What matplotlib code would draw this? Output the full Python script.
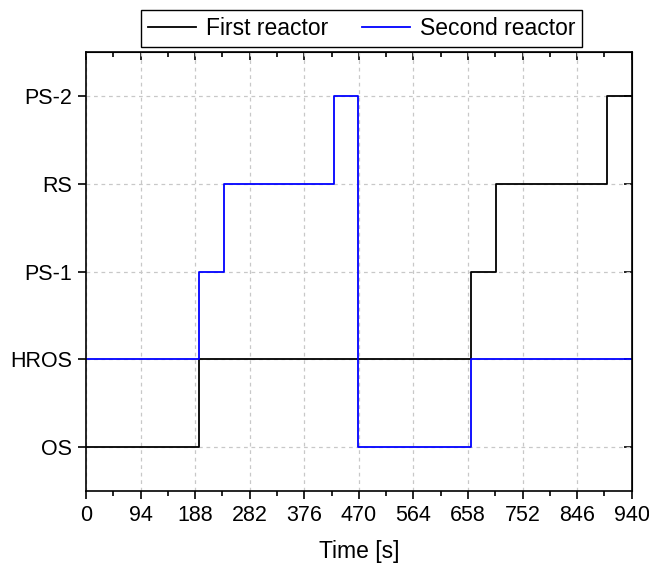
import matplotlib
matplotlib.use("Agg")
import matplotlib.pyplot as plt
from matplotlib.ticker import MultipleLocator

plt.rcParams['font.family'] = ['Liberation Sans', 'DejaVu Sans']

# state labels on the y axis (index = level)
states = ["OS", "HROS", "PS-1", "RS", "PS-2"]

# first reactor: switch times [s] and the state held from that time on
t_first = [0, 194, 664, 707, 898, 940]
s_first = [0, 1, 2, 3, 4, 4]

# second reactor
t_second = [0, 195, 237, 427, 469, 663, 940]
s_second = [1, 2, 3, 4, 0, 1, 1]

xticks = list(range(0, 941, 94))

fig = plt.figure(figsize=(6.49, 5.63), dpi=100)
ax = fig.add_axes([0.1325, 0.1279, 0.8408, 0.7792])

ax.plot(t_first, s_first, drawstyle="steps-post", color="black", lw=1.3,
        label="First reactor")
ax.plot(t_second, s_second, drawstyle="steps-post", color="#0000ff", lw=1.3,
        label="Second reactor")

ax.set_xlim(0, 940)
ax.set_ylim(-0.5, 4.5)
ax.set_xticks(xticks)
ax.xaxis.set_minor_locator(MultipleLocator(47))
ax.set_yticks(range(len(states)))
ax.set_yticklabels(states)

ax.grid(True, which="major", color="#c8c8c8", ls=(0, (3, 3)), lw=0.9)
ax.set_axisbelow(True)

for sp in ax.spines.values():
    sp.set_linewidth(1.2)

ax.tick_params(axis="both", which="major", labelsize=15.5, width=1.2, length=6,
               direction="out", pad=4)
ax.tick_params(axis="x", which="minor", width=1.2, length=3.5, direction="out")

# ticks on the opposite sides point inwards
top = ax.secondary_xaxis("top")
top.set_xticks(xticks)
top.xaxis.set_minor_locator(MultipleLocator(47))
top.tick_params(which="major", direction="in", length=6, width=1.2, labeltop=False)
top.tick_params(which="minor", direction="in", length=3.5, width=1.2)
right = ax.secondary_yaxis("right")
right.set_yticks(range(len(states)))
right.tick_params(direction="in", length=6, width=1.2, labelright=False)

ax.set_xlabel("Time [s]", fontsize=16.5, labelpad=10)

leg = ax.legend(loc="lower center", bbox_to_anchor=(0.505, 1.013), ncol=2,
                borderaxespad=0, fontsize=16.5, frameon=True, fancybox=False,
                edgecolor="black", framealpha=1, handlelength=2.1,
                handletextpad=0.45, columnspacing=1.45, borderpad=0.3)
leg.get_frame().set_linewidth(1.0)

fig.savefig("out.png", dpi=100)
